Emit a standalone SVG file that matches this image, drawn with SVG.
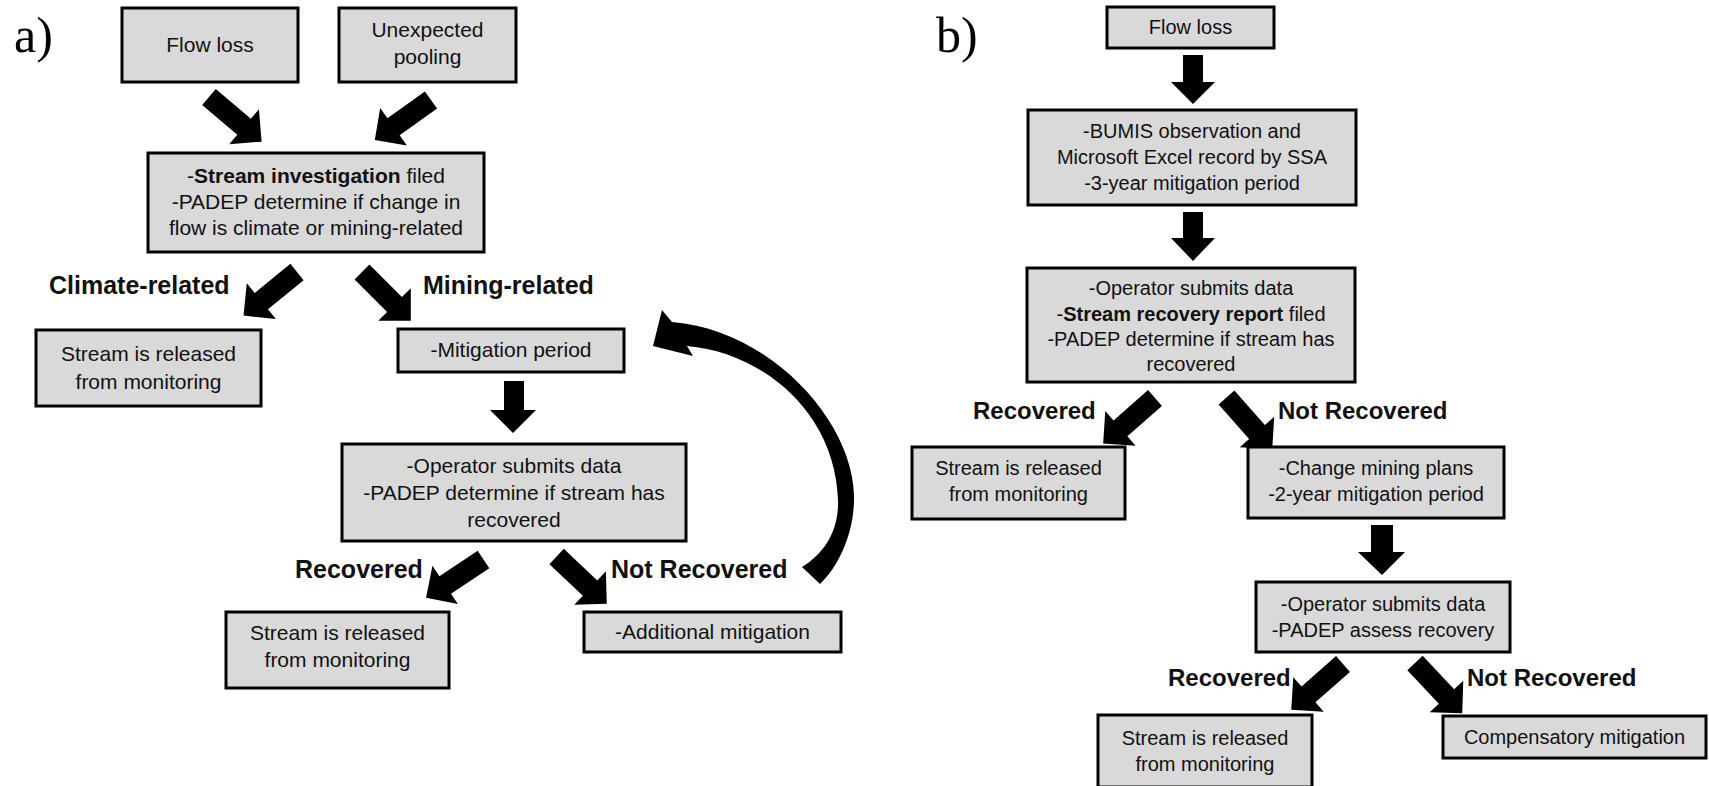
<svg xmlns="http://www.w3.org/2000/svg" xmlns:xlink="http://www.w3.org/1999/xlink" width="1709" height="786" viewBox="0 0 1709 786">
<style>
.box{fill:#d9d9d9;stroke:#000;stroke-width:3}
.t{font-family:"Liberation Sans",Arial,sans-serif;font-size:20px;fill:#111;text-anchor:middle}
.ta{font-size:21px}
.lbl{font-family:"Liberation Sans",Arial,sans-serif;font-weight:bold;font-size:25px;fill:#111}
.lb{font-size:24px}
.pan{font-family:"Liberation Serif","Times New Roman",serif;font-size:50px;fill:#000}
.arr{fill:#000}
</style>
<defs>
<path id="darrow" d="M0,-10.5 L46,-10.5 L46,-23 L69,0 L46,23 L46,10.5 L0,10.5 Z"/>
</defs>
<rect width="1709" height="786" fill="#fff"/>
<text class="pan" x="14" y="52">a)</text>
<text class="pan" x="936" y="52">b)</text>

<g id="connectors" class="arr">
<use xlink:href="#darrow" href="#darrow" transform="translate(209,97) rotate(40.3)"/>
<use xlink:href="#darrow" href="#darrow" transform="translate(431,100) rotate(144.5)"/>
<use xlink:href="#darrow" href="#darrow" transform="translate(297,272) rotate(140.8)"/>
<use xlink:href="#darrow" href="#darrow" transform="translate(362,272) rotate(45)"/>
<polygon points="504,381 524,381 524,410 536,410 513,433 490,410 504,410"/>
<use xlink:href="#darrow" href="#darrow" transform="translate(483.5,559.5) rotate(146.4)"/>
<use xlink:href="#darrow" href="#darrow" transform="translate(556.6,556.5) rotate(43.3)"/>
<path d="M802,567 L820,584 C840,565 855,530 854,495 C852,420 770,330 672,322 L662,310 L653,346 L693,356 L687,346 C760,352 835,410 838,500 C839,530 825,553 802,567 Z"/>
<polygon points="1183,55 1203,55 1203,82 1215,82 1193,104 1171,82 1183,82"/>
<polygon points="1183,212 1203,212 1203,238 1215,238 1193,261 1171,238 1183,238"/>
<use xlink:href="#darrow" href="#darrow" transform="translate(1155,398) rotate(138.7)"/>
<use xlink:href="#darrow" href="#darrow" transform="translate(1226.5,397.5) rotate(48.5)"/>
<polygon points="1371,525 1393,525 1393,552 1405,552 1382,575 1358,552 1371,552"/>
<use xlink:href="#darrow" href="#darrow" transform="translate(1343,664) rotate(138.6)"/>
<use xlink:href="#darrow" href="#darrow" transform="translate(1415,663) rotate(46.8)"/>
</g>

<g id="labels">
<text class="lbl" x="49" y="294">Climate-related</text>
<text class="lbl" x="423" y="294">Mining-related</text>
<text class="lbl" x="295" y="578">Recovered</text>
<text class="lbl" x="611" y="578">Not Recovered</text>
<text class="lbl lb" x="973" y="419">Recovered</text>
<text class="lbl lb" x="1278" y="419">Not Recovered</text>
<text class="lbl lb" x="1168" y="686">Recovered</text>
<text class="lbl lb" x="1467" y="686">Not Recovered</text>
</g>

<g id="a_flowloss"><rect class="box" x="122" y="8" width="176" height="74"/><text class="t ta" x="210" y="52">Flow loss</text></g>
<g id="a_pooling"><rect class="box" x="339" y="8" width="177" height="74"/><text class="t ta" x="427.5" y="37">Unexpected</text><text class="t ta" x="427.5" y="64">pooling</text></g>
<g id="a_investigation"><rect class="box" x="148" y="153" width="336" height="99"/>
<text class="t ta" x="316" y="183">-<tspan font-weight="bold">Stream investigation</tspan> filed</text>
<text class="t ta" x="316" y="209">-PADEP determine if change in</text>
<text class="t ta" x="316" y="235">flow is climate or mining-related</text></g>
<g id="a_released1"><rect class="box" x="36" y="330" width="225" height="76"/><text class="t ta" x="148.5" y="361">Stream is released</text><text class="t ta" x="148.5" y="389">from monitoring</text></g>
<g id="a_mitigation"><rect class="box" x="398" y="329" width="226" height="43"/><text class="t ta" x="511" y="357">-Mitigation period</text></g>
<g id="a_operator"><rect class="box" x="342" y="444" width="344" height="97"/>
<text class="t ta" x="514" y="473">-Operator submits data</text>
<text class="t ta" x="514" y="500">-PADEP determine if stream has</text>
<text class="t ta" x="514" y="527">recovered</text></g>
<g id="a_released2"><rect class="box" x="226" y="612" width="223" height="76"/><text class="t ta" x="337.5" y="640">Stream is released</text><text class="t ta" x="337.5" y="667">from monitoring</text></g>
<g id="a_additional"><rect class="box" x="584" y="612" width="257" height="40"/><text class="t ta" x="712.5" y="639">-Additional mitigation</text></g>

<g id="b_flowloss"><rect class="box" x="1107" y="7" width="167" height="41"/><text class="t" x="1190.5" y="34">Flow loss</text></g>
<g id="b_bumis"><rect class="box" x="1028" y="110" width="328" height="95"/>
<text class="t" x="1192" y="138">-BUMIS observation and</text>
<text class="t" x="1192" y="164">Microsoft Excel record by SSA</text>
<text class="t" x="1192" y="190">-3-year mitigation period</text></g>
<g id="b_operator"><rect class="box" x="1027" y="268" width="328" height="114"/>
<text class="t" x="1191" y="295">-Operator submits data</text>
<text class="t" x="1191" y="321">-<tspan font-weight="bold">Stream recovery report</tspan> filed</text>
<text class="t" x="1191" y="346">-PADEP determine if stream has</text>
<text class="t" x="1191" y="371">recovered</text></g>
<g id="b_released1"><rect class="box" x="912" y="447" width="213" height="72"/><text class="t" x="1018.5" y="475">Stream is released</text><text class="t" x="1018.5" y="501">from monitoring</text></g>
<g id="b_change"><rect class="box" x="1248" y="447" width="256" height="71"/><text class="t" x="1376" y="475">-Change mining plans</text><text class="t" x="1376" y="501">-2-year mitigation period</text></g>
<g id="b_operator2"><rect class="box" x="1256" y="582" width="254" height="70"/><text class="t" x="1383" y="611">-Operator submits data</text><text class="t" x="1383" y="637">-PADEP assess recovery</text></g>
<g id="b_released2"><rect class="box" x="1098" y="715" width="214" height="72"/><text class="t" x="1205" y="745">Stream is released</text><text class="t" x="1205" y="771">from monitoring</text></g>
<g id="b_compensatory"><rect class="box" x="1443" y="716" width="263" height="42"/><text class="t" x="1574.5" y="744">Compensatory mitigation</text></g>
</svg>
